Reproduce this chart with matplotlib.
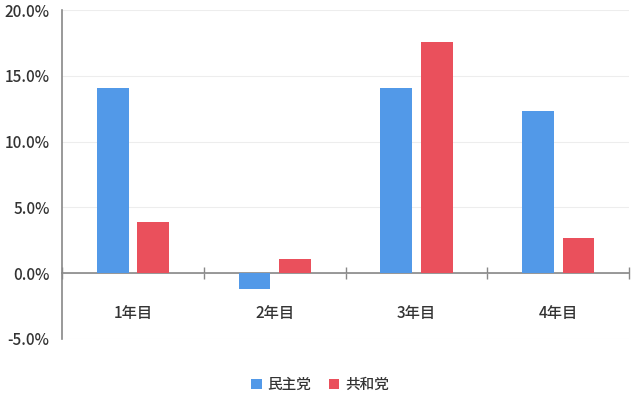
import numpy as np
import matplotlib.pyplot as plt
from matplotlib.ticker import FuncFormatter, FixedLocator

plt.rcParams['font.family'] = ['Noto Sans CJK JP', 'DejaVu Sans']
plt.rcParams['font.weight'] = 'medium'

years = ["1年目", "2年目", "3年目", "4年目"]
democrat = [14.1, -1.2, 14.1, 12.3]
republican = [3.9, 1.1, 17.6, 2.7]
series_names = ["民主党", "共和党"]

blue = "#5299E8"
red = "#EA505C"

fig = plt.figure(figsize=(6.4, 4.05), dpi=100)
ax = fig.add_axes([0.097, 0.163, 0.886, 0.812])

x = np.arange(1, len(years) + 1)
w = 0.225
ax.bar(x - 0.143, democrat, w, color=blue, label=series_names[0], zorder=3)
ax.bar(x + 0.143, republican, w, color=red, label=series_names[1], zorder=3)

ax.set_xlim(0.5, len(years) + 0.5)
ax.set_ylim(-5, 20)
ax.set_yticks([-5, 0, 5, 10, 15, 20])
ax.yaxis.set_major_formatter(FuncFormatter(lambda v, p: "%.1f%%" % v))
ax.grid(axis='y', color="#EDEDED", linewidth=0.8, zorder=0)

for s in ['top', 'right']:
    ax.spines[s].set_visible(False)
ax.spines['bottom'].set_position(('data', 0))
ax.spines['bottom'].set_color("#888888")
ax.spines['left'].set_color("#888888")
ax.spines['bottom'].set_linewidth(1.2)
ax.spines['left'].set_linewidth(1.2)

# group boundary ticks on the zero line, labels at centres below
ax.xaxis.set_major_locator(FixedLocator(np.arange(0.5, len(years) + 1, 1.0)))
ax.xaxis.set_minor_locator(FixedLocator(x))
ax.set_xticklabels([], minor=False)
ax.set_xticklabels(years, minor=True)
ax.tick_params(axis='x', which='major', direction='inout', length=8, color="#888888", width=1)
ax.tick_params(axis='x', which='minor', length=0, pad=23, labelsize=11, labelcolor="#333333")
ax.tick_params(axis='y', length=0, pad=9, labelsize=11, labelcolor="#333333")

fig.legend(loc='lower center', bbox_to_anchor=(0.5, 0.0), ncol=2, frameon=False,
           fontsize=10.5, handlelength=0.7, handleheight=0.7, handletextpad=0.4,
           columnspacing=1.2, labelcolor="#333333")

fig.savefig("out.png", dpi=100)
